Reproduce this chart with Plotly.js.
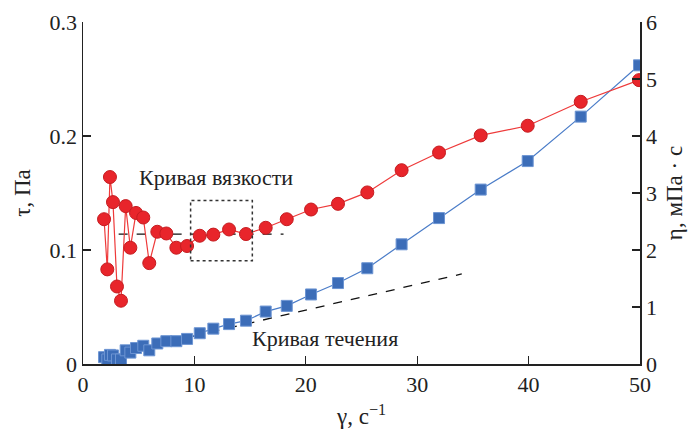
<!DOCTYPE html>
<html>
<head>
<meta charset="utf-8">
<script src="https://cdn.plot.ly/plotly-3.0.1.min.js"></script>
<style>html,body{margin:0;padding:0;background:#fff}#chart{width:694px;height:430px}</style>
</head>
<body>
<div id="chart"></div>
<script>
// shear rate, 1/s
const shearRate = [1.89, 2.18, 2.42, 2.69, 3.05, 3.41, 3.83, 4.25, 4.76, 5.41, 5.95, 6.67, 7.48, 8.38, 9.34, 10.48, 11.70, 13.11, 14.63, 16.40, 18.29, 20.47, 22.89, 25.52, 28.60, 31.96, 35.70, 39.92, 44.68, 49.91];
// viscosity curve, mPa·s (right axis)
const viscosity = [2.54, 1.66, 3.28, 2.84, 1.36, 1.11, 2.77, 2.04, 2.65, 2.57, 1.77, 2.32, 2.29, 2.04, 2.07, 2.25, 2.27, 2.36, 2.28, 2.39, 2.54, 2.71, 2.81, 3.01, 3.40, 3.71, 4.01, 4.18, 4.60, 4.98];
// flow curve, Pa (left axis)
const stress = [0.006, 0.004, 0.008, 0.0075, 0.004, 0.004, 0.012, 0.010, 0.014, 0.016, 0.012, 0.018, 0.020, 0.020, 0.022, 0.027, 0.031, 0.035, 0.038, 0.046, 0.051, 0.061, 0.071, 0.084, 0.105, 0.128, 0.153, 0.178, 0.217, 0.262];
// guide lines
const viscGuideX = [3.2, 18.0];
const viscGuideY = [2.28, 2.28];
const flowGuideX = [2.0, 34.0];
const flowGuideY = [0.0065, 0.079];
// highlighted window
const boxX = [9.66, 15.2];
const boxY = [1.81, 2.87];
const labels = ["Кривая вязкости", "Кривая течения"];
const labelPos = [[11.9, 0.164], [21.7, 0.0225]];

const serif = "Liberation Serif, Times New Roman, serif";

const traces = [
  {x: flowGuideX, y: flowGuideY, mode: "lines", yaxis: "y",
   line: {color: "#111", width: 1.3, dash: "dash"}, hoverinfo: "skip"},
  {x: shearRate, y: stress, mode: "lines+markers", yaxis: "y",
   line: {color: "#4a7cc8", width: 1.2},
   marker: {symbol: "square", size: 11, color: "#3c6db8", line: {color: "#6d95d3", width: 1}}},
  {x: viscGuideX, y: viscGuideY, mode: "lines", yaxis: "y2",
   line: {color: "#111", width: 1.3, dash: "dash"}, hoverinfo: "skip"},
  {x: shearRate, y: viscosity, mode: "lines+markers", yaxis: "y2",
   line: {color: "#ee3a3a", width: 1.2},
   marker: {symbol: "circle", size: 13, color: "#e8252b", line: {color: "#c51c20", width: 1}}}
];

const axisCommon = {
  showline: true, linecolor: "#222", linewidth: 1.5,
  ticks: "inside", ticklen: 8, tickwidth: 1.3, tickcolor: "#222",
  showgrid: false, zeroline: false,
  tickfont: {family: serif, size: 22, color: "#222"}
};

const layout = {
  width: 694, height: 430,
  margin: {l: 83, r: 54, t: 22, b: 66},
  paper_bgcolor: "#fff", plot_bgcolor: "#fff",
  showlegend: false,
  font: {family: serif, color: "#222"},
  xaxis: Object.assign({}, axisCommon, {
    range: [0, 50], tickvals: [0, 10, 20, 30, 40, 50],
    title: {text: "γ, с<sup>−1</sup>", font: {family: serif, size: 23, color: "#222"}, standoff: 12}
  }),
  yaxis: Object.assign({}, axisCommon, {
    range: [0, 0.3], tickvals: [0, 0.1, 0.2, 0.3], ticktext: ["0", "0.1", "0.2", "0.3"],
    title: {text: "τ, Па", font: {family: serif, size: 23, color: "#222"}, standoff: 12}
  }),
  yaxis2: Object.assign({}, axisCommon, {
    range: [0, 6], tickvals: [0, 1, 2, 3, 4, 5, 6],
    overlaying: "y", side: "right",
    title: {text: "η, мПа · с", font: {family: serif, size: 23, color: "#222"}, standoff: 10}
  }),
  shapes: [
    {type: "rect", xref: "x", yref: "y2", x0: boxX[0], x1: boxX[1], y0: boxY[0], y1: boxY[1],
     line: {color: "#333", width: 1.5, dash: "dot"}}
  ],
  annotations: labels.map((t, i) => ({
    text: t, x: labelPos[i][0], y: labelPos[i][1], xref: "x", yref: "y",
    showarrow: false, font: {family: serif, size: 22, color: "#222"}
  }))
};

Plotly.newPlot("chart", traces, layout, {displayModeBar: false, staticPlot: true});
</script>
</body>
</html>
